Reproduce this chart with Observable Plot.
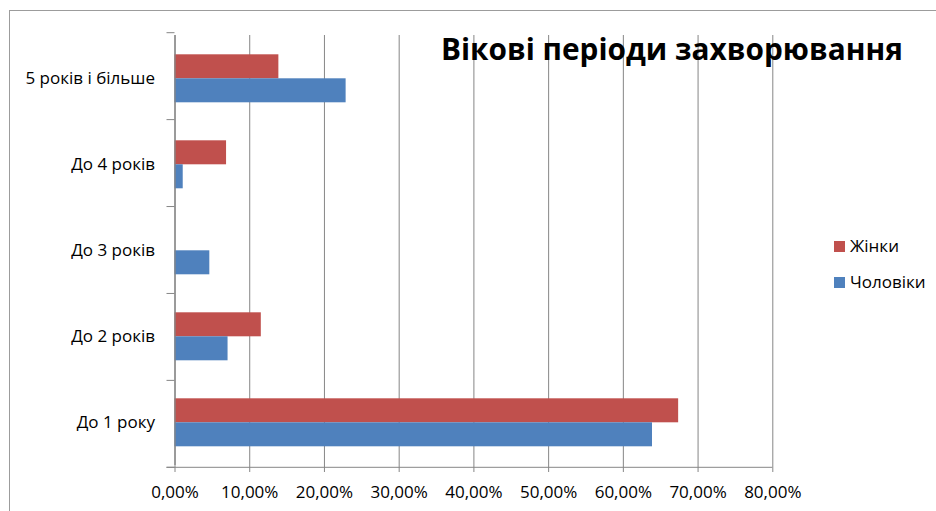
<!DOCTYPE html>
<html><head><meta charset="utf-8">
<script src="https://cdn.jsdelivr.net/npm/d3@7"></script>
<script src="https://cdn.jsdelivr.net/npm/@observablehq/plot@0.6"></script>
<style>
body{margin:0;background:#fff;}
#wrap{position:relative;width:936px;height:511px;overflow:hidden;font-family:"Open Sans",sans-serif;color:#000;}
#border{position:absolute;left:9px;top:10px;width:960px;height:540px;border:1px solid #9c9c9c;box-sizing:border-box;pointer-events:none;}
#title{position:absolute;left:441px;top:33.5px;font-size:29.8px;font-weight:bold;line-height:1;white-space:nowrap;}
.leg{position:absolute;left:834px;font-size:17px;line-height:1;white-space:nowrap;}
.leg .sw{display:inline-block;width:11px;height:11px;margin-right:5px;vertical-align:0px;}
</style>
</head><body>
<div id="wrap"></div>
<script>
// ---- data ----
const categories = ["5 років і більше","До 4 років","До 3 років","До 2 років","До 1 року"];
const series = ["Жінки","Чоловіки"];
const women = [13.9, 6.9, 0, 11.55, 67.4];
const men   = [22.9, 1.1, 4.66, 7.1, 63.9];
const xTicks = [0,10,20,30,40,50,60,70,80];
const colors = ["#C0504D","#4F81BD"];
const titleText = "Вікові періоди захворювання";

const data = categories.flatMap((c,i)=>[
  {cat:c, s:series[0], v:women[i]},
  {cat:c, s:series[1], v:men[i]}
]);

const W=936, H=511, mL=174.5, mR=163.7, mT=32.7, mB=43.7;
const grid="#868686";
const fmt = d => d.toFixed(2).replace(".",",")+"%";

const chart = Plot.plot({
  width:W, height:H, marginLeft:mL, marginRight:mR, marginTop:mT, marginBottom:mB,
  style:{fontFamily:"'Open Sans', sans-serif", fontSize:"17px", background:"transparent", color:"#000"},
  x:{domain:[0,80], ticks:xTicks, label:null},
  fy:{domain:categories, padding:0, label:null, axis:null},
  y:{domain:series, paddingInner:0, paddingOuter:0.755, axis:null},
  color:{domain:series, range:colors},
  marks:[
    Plot.gridX(xTicks, {stroke:grid, strokeOpacity:1, strokeWidth:1}),
    Plot.barX(data, {fy:"cat", y:"s", x:"v", fill:"s"}),
    Plot.ruleX([0], {stroke:grid, strokeWidth:1.3}),
    Plot.axisFy({anchor:"left", tickSize:0, tickPadding:20, label:null, fontSize:17}),
    Plot.axisX({ticks:xTicks, tickFormat:fmt, tickSize:7, tickPadding:13.5, stroke:grid, label:null, fontSize:17})
  ]
});

const wrap = document.getElementById("wrap");
wrap.appendChild(chart);

// category boundary ticks and bottom axis line
const svg = d3.select(chart.tagName.toLowerCase()==="svg" ? chart : chart.querySelector("svg"));
const xS = chart.scale("x");
const x0 = xS.apply ? xS.apply(0) : mL;
const x80 = xS.apply ? xS.apply(80) : W-mR;
const yTop = mT, yBot = H-mB, nCat = categories.length;
const g = svg.append("g").attr("stroke", grid).attr("stroke-width",1);
for (let i=0;i<=nCat;i++){
  const y = yTop + i*(yBot-yTop)/nCat;
  g.append("line").attr("x1",x0-8).attr("x2",x0).attr("y1",y).attr("y2",y);
}
g.append("line").attr("x1",x0-8).attr("x2",x80).attr("y1",yBot).attr("y2",yBot);

// title
const t = document.createElement("div");
t.id="title"; t.textContent = titleText; wrap.appendChild(t);

// legend
const legTops=[236.9, 273.2];
series.forEach((s,i)=>{
  const d=document.createElement("div");
  d.className="leg"; d.style.top=legTops[i]+"px";
  d.innerHTML=`<span class="sw" style="background:${colors[i]}"></span>${s}`;
  wrap.appendChild(d);
});

const b=document.createElement("div"); b.id="border"; wrap.appendChild(b);
</script>
</body></html>
